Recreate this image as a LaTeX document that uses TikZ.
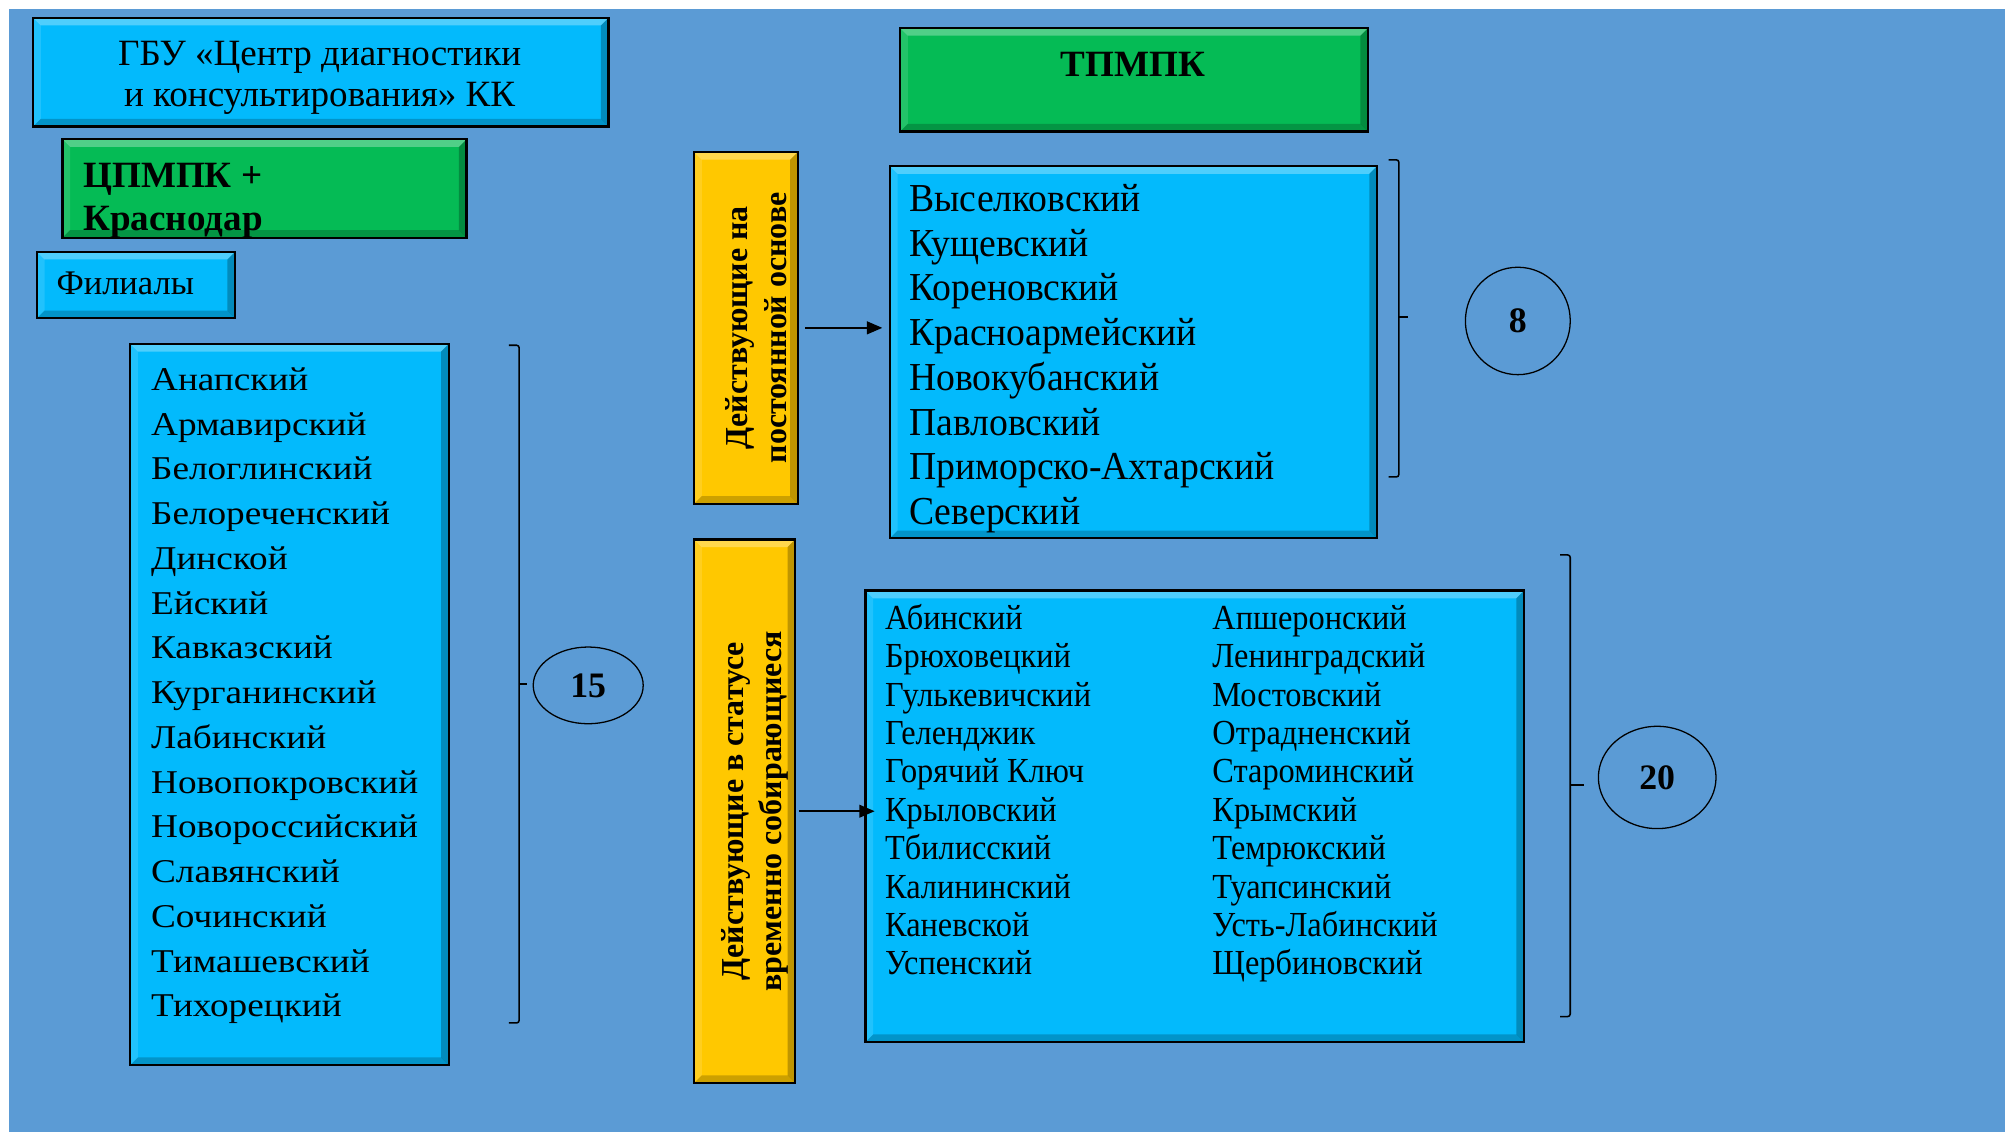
\documentclass[tikz,border=0pt]{standalone}
\usepackage{fontspec}
\setmainfont{Liberation Serif}
\newfontfamily\wideSerif[FakeStretch=1.12]{Liberation Serif}
\newfontfamily\tallSerif[FakeStretch=0.95]{Liberation Serif}
\newfontfamily\narrowSerif[FakeStretch=0.92]{Liberation Serif}
\usetikzlibrary{positioning, shapes.geometric, arrows.meta}
\definecolor{pageBlue}{RGB}{91,155,213}
\definecolor{boxCyan}{RGB}{3,186,252}
\definecolor{boxGreen}{RGB}{5,187,85}
\definecolor{boxYellow}{RGB}{255,200,0}
\tikzstyle{chart} = [x = 1pt, y = -1pt]
\tikzstyle{bevelBox} = [draw=black, line width=1.8pt, inner sep=0pt, anchor=north west,
  path picture={
    \fill [white, opacity=.3] (path picture bounding box.north west) -- (path picture bounding box.north east)
      -- ([shift={(-6pt,-6pt)}]path picture bounding box.north east) -- ([shift={(6pt,-6pt)}]path picture bounding box.north west) -- cycle;
    \fill [white, opacity=.12] (path picture bounding box.north west) -- (path picture bounding box.south west)
      -- ([shift={(6pt,6pt)}]path picture bounding box.south west) -- ([shift={(6pt,-6pt)}]path picture bounding box.north west) -- cycle;
    \fill [black, opacity=.25] (path picture bounding box.north east) -- (path picture bounding box.south east)
      -- ([shift={(-6pt,6pt)}]path picture bounding box.south east) -- ([shift={(-6pt,-6pt)}]path picture bounding box.north east) -- cycle;
    \fill [black, opacity=.2] (path picture bounding box.south west) -- (path picture bounding box.south east)
      -- ([shift={(-6pt,6pt)}]path picture bounding box.south east) -- ([shift={(6pt,6pt)}]path picture bounding box.south west) -- cycle;
  }]
\tikzstyle{titleText} = [align=center, inner sep=0pt, font=\fontsize{29}{32}\selectfont]
\tikzstyle{boldText} = [align=left, inner sep=0pt, font=\bfseries\fontsize{29}{34}\selectfont]
\tikzstyle{sideText} = [rotate=90, align=center, inner sep=0pt, font=\bfseries\fontsize{25}{30}\selectfont]
\tikzstyle{wideList} = [anchor=mid west, inner sep=0pt, font=\wideSerif\fontsize{26}{30}\selectfont]
\tikzstyle{plainList} = [anchor=mid west, inner sep=0pt, font=\tallSerif\fontsize{31}{34}\selectfont]
\tikzstyle{narrowList} = [anchor=mid west, inner sep=0pt, font=\narrowSerif\fontsize{27.5}{30}\selectfont]
\tikzstyle{countOval} = [ellipse, draw=black, line width=1pt, inner sep=0pt, font=\bfseries\fontsize{28}{30}\selectfont]
\tikzstyle{bracketLine} = [draw=black, line width=1.2pt, rounded corners=2pt]
\tikzstyle{flowArrow} = [draw=black, line width=1.3pt, -{Triangle[length=12pt, width=10pt]}]
\newcommand{\bevelRect}[6]{\node [bevelBox, fill=#6, minimum width={#4-#2}, minimum height={#5-#3}] (#1) at (#2,#3) {};}
\newcommand{\districtList}[6]{
  \foreach \district [count=\row] in {#6} {
    \node [#5] (#1\row) at (#2, #3 + #4 * \row - #4) {\district};
  }
}
\newcommand{\sideBracket}[5]{
  \draw [bracketLine] (#1 - 8, #2) -- (#1, #2) -- (#1, #3) -- (#1 - 8, #3);
  \draw [bracketLine] (#1, #4) -- (#5, #4);
}

\begin{document}
\begin{tikzpicture}[chart]
    \useasboundingbox (0,0) rectangle (1568,885);
    \fill [pageBlue] (7,7) rectangle (1568,885);
    % left column
    \bevelRect{gbu}{25}{13}{475}{98}{boxCyan}
    \node [titleText] (gbuText) at (250,61) {ГБУ «Центр диагностики\\и консультирования» КК};
    \bevelRect{cpmpk}{48}{108}{364}{185}{boxGreen}
    \node [boldText, anchor=west] (cpmpkText) at (65,157) {ЦПМПК +\\Краснодар};
    \bevelRect{filialy}{28}{196}{183}{248}{boxCyan}
    \node [plainList, font=\fontsize{27}{30}\selectfont] (filialyText) at (44,228) {Филиалы};
    \bevelRect{branches}{101}{268}{350}{832}{boxCyan}
    \districtList{branch}{118}{303}{35}{wideList}{Анапский, Армавирский, Белоглинский, Белореченский, Динской, Ейский, Кавказский, Курганинский, Лабинский, Новопокровский, Новороссийский, Славянский, Сочинский, Тимашевский, Тихорецкий}
    \sideBracket{406}{270}{800}{535}{412}
    \node [countOval, minimum width=86, minimum height=60] (n15) at (460,536) {15};
    % right column
    \bevelRect{tpmpk}{703}{21}{1069}{102}{boxGreen}
    \node [boldText] (tpmpkText) at (886,50) {ТПМПК};
    \bevelRect{perm}{542}{118}{623}{393}{boxYellow}
    \node [sideText] (permText) at ([xshift=8pt]perm.center) {Действующие на\\постоянной основе};
    \bevelRect{permList}{695}{129}{1076}{420}{boxCyan}
    \districtList{permanent}{711}{163}{35}{plainList}{Выселковский, Кущевский, Кореновский, Красноармейский, Новокубанский, Павловский, Приморско-Ахтарский, Северский}
    \sideBracket{1094}{125}{373}{248}{1101}
    \node [countOval, minimum width=82, minimum height=84] (n8) at (1187,251) {8};
    \bevelRect{temp}{542}{421}{621}{846}{boxYellow}
    \node [sideText] (tempText) at ([xshift=8pt]temp.center) {Действующие в статусе\\временно собирающиеся};
    \bevelRect{tempList}{676}{461}{1191}{814}{boxCyan}
    \districtList{tempA}{692}{490}{30}{narrowList}{Абинский, Брюховецкий, Гулькевичский, Геленджик, Горячий Ключ, Крыловский, Тбилисский, Калининский, Каневской, Успенский}
    \districtList{tempB}{948}{490}{30}{narrowList}{Апшеронский, Ленинградский, Мостовский, Отрадненский, Староминский, Крымский, Темрюкский, Туапсинский, Усть-Лабинский, Щербиновский}
    \sideBracket{1228}{434}{795}{614}{1239}
    \node [countOval, minimum width=92, minimum height=80] (n20) at (1296,608) {20};
    % arrows
    \draw [flowArrow, shorten <=5pt, shorten >=5pt] (perm.east) -- (permList.west |- perm.east);
    \draw [flowArrow, shorten <=2pt, shorten >=-8pt] (temp.east) -- (tempList.west |- temp.east);
\end{tikzpicture}
\end{document}
